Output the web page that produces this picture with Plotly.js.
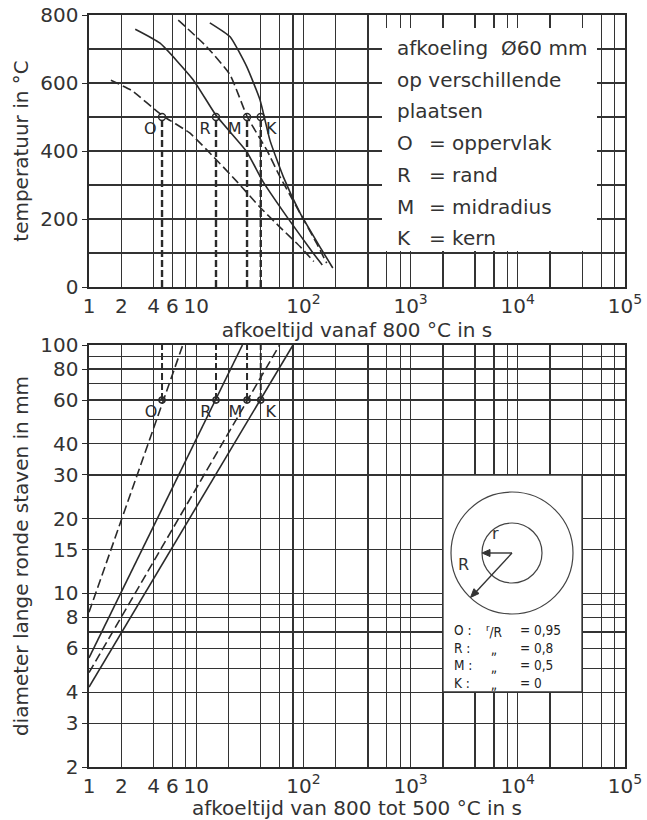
<!DOCTYPE html>
<html><head><meta charset="utf-8">
<script src="https://cdn.plot.ly/plotly-3.0.1.min.js"></script>
<style>html,body{margin:0;padding:0;background:#fff}</style>
</head><body><div id="chart" style="width:647px;height:820px"></div>
<script>
// ---------- axis ticks ----------
const timeTicks = [1,2,4,6,10,100,1000,10000,100000];
const timeTickText = ['1','2','4','6','10','10<sup>2</sup>','10<sup>3</sup>','10<sup>4</sup>','10<sup>5</sup>'];
const timeGridMinor = [8,20,40,60,80,200,400,600,800,2000,4000,6000,8000,20000,40000,60000,80000];
const tempTicks = [0,200,400,600,800];
const tempGridMinor = [100,300,500,700];
const diamTicks = [2,3,4,6,8,10,15,20,30,40,60,80,100];
const diamGridMinor = [5,7,9,50,70,90];

// ---------- top chart: cooling curves (time s, temperature °C) ----------
const topO_t = [1.6, 2.5, 4.8, 8.7, 14.5, 24, 39, 60, 93, 125];
const topO_T = [608, 578, 505, 453, 383, 310, 236, 177, 119, 75];
const topR_t = [2.7, 4.6, 9.4, 15.3, 29.6, 42, 70, 123, 150];
const topR_T = [758, 717, 609, 505, 398, 310, 207, 100, 65];
const topM_t = [6.8, 12.5, 20.7, 30, 45.5, 60.5, 93, 133, 165];
const topM_T = [785, 707, 624, 500, 403, 324, 217, 128, 70];
const topK_t = [13.4, 20.7, 29.6, 39.4, 48.7, 65, 93, 142, 188];
const topK_T = [777, 736, 648, 550, 432, 324, 218, 119, 56];

// ---------- crossing points (800->500 °C time of a 60 mm bar) ----------
const posLabels = ['O','R','M','K'];
const crossTime = [4.8, 15.3, 29.8, 40];
const crossTemp = 500;
const crossDiam = 60;
const diamTop = 100;

// ---------- bottom chart: diameter vs cooling time 800-500 °C ----------
const botO_t = [1, 7.5],  botO_d = [8.4, 100];
const botR_t = [1, 27],   botR_d = [5.5, 100];
const botM_t = [1, 60],   botM_d = [4.8, 100];
const botK_t = [1, 80],   botK_d = [4.2, 100];

// ---------- legend / inset texts ----------
const legendHead = ['afkoeling&nbsp;&nbsp;Ø60 mm','op verschillende','plaatsen'];
const legendKeys = ['O','R','M','K'];
const legendNames = ['= oppervlak','= rand','= midradius','= kern'];
const insetKeys = ['O :','R :','M :','K :'];
const insetMid = ['<sup>r</sup>/R','„','„','„'];
const insetVals = ['= 0,95','= 0,8','= 0,5','= 0'];

const INK = '#2a2a2a';
const FONT = 'DejaVu Sans, Arial, sans-serif';
const dashStyle = '9px,4px';

function line(x, y, dashed, xa, ya) {
  return {x, y, xaxis: xa, yaxis: ya, type: 'scatter', mode: 'lines', showlegend: false,
    hoverinfo: 'skip', line: {color: INK, width: 1.6, dash: dashed ? dashStyle : 'solid', shape: 'spline', smoothing: 0.45}};
}

const traces = [
  line(topO_t, topO_T, true, 'x', 'y'),
  line(topR_t, topR_T, false, 'x', 'y'),
  line(topM_t, topM_T, true, 'x', 'y'),
  line(topK_t, topK_T, false, 'x', 'y'),
  line(botO_t, botO_d, true, 'x2', 'y2'),
  line(botR_t, botR_d, false, 'x2', 'y2'),
  line(botM_t, botM_d, true, 'x2', 'y2'),
  line(botK_t, botK_d, false, 'x2', 'y2'),
];

// vertical dashed drop lines
crossTime.forEach(t => {
  traces.push({x: [t, t], y: [0, crossTemp], xaxis: 'x', yaxis: 'y', mode: 'lines', showlegend: false, hoverinfo: 'skip',
    line: {color: INK, width: 2.4, dash: '7px,3px'}});
  traces.push({x: [t, t], y: [crossDiam, diamTop], xaxis: 'x2', yaxis: 'y2', mode: 'lines', showlegend: false, hoverinfo: 'skip',
    line: {color: INK, width: 2.0, dash: '7px,3px'}});
});

// markers with position letters
const textPos = ['bottom left','bottom left','bottom left','bottom right'];
traces.push({x: crossTime, y: crossTime.map(() => crossTemp), xaxis: 'x', yaxis: 'y', mode: 'markers+text',
  text: posLabels, textposition: textPos, showlegend: false, hoverinfo: 'skip',
  textfont: {family: FONT, size: 16, color: INK},
  marker: {symbol: 'circle-open', size: 7, color: INK, line: {width: 1.4}}});
traces.push({x: crossTime, y: crossTime.map(() => crossDiam), xaxis: 'x2', yaxis: 'y2', mode: 'markers+text',
  text: posLabels, textposition: textPos, showlegend: false, hoverinfo: 'skip',
  textfont: {family: FONT, size: 16, color: INK},
  marker: {symbol: 'circle-open', size: 6, color: INK, line: {width: 1.6}}});

// ---------- layout helpers (pixel -> paper) ----------
const W = 647, H = 820, L = 89, R = 22, T = 15, B = 53;
const PW = W - L - R, PH = H - T - B;
const px = v => (v - L) / PW;
const py = v => (H - B - v) / PH;

const GRID = '#333';
const axBase = {
  showline: true, mirror: true, linecolor: INK, linewidth: 1.6,
  showgrid: true, gridcolor: GRID, gridwidth: 1.3, zeroline: false,
  tickfont: {family: FONT, size: 20, color: '#333'}, tickmode: 'array', fixedrange: true
};
const minorGrid = vals => ({tickmode: 'array', tickvals: vals, showgrid: true, gridcolor: GRID, gridwidth: 1.3, ticks: ''});

const layout = {
  width: W, height: H, paper_bgcolor: '#fff', plot_bgcolor: '#fff',
  margin: {l: L, r: R, t: T, b: B},
  font: {family: FONT, color: '#333'},
  xaxis: Object.assign({}, axBase, {type: 'log', range: [0, 5], domain: [0, 1], anchor: 'y',
    tickvals: timeTicks, ticktext: timeTickText, ticks: '', minor: minorGrid(timeGridMinor),
    title: {text: 'afkoeltijd vanaf 800 °C in s', font: {family: FONT, size: 20, color: '#333'}, standoff: 2}}),
  yaxis: Object.assign({}, axBase, {range: [0, 800], domain: [py(287), 1], anchor: 'x',
    tickvals: tempTicks, ticks: 'outside', ticklen: 5, tickcolor: INK, minor: minorGrid(tempGridMinor),
    title: {text: 'temperatuur in °C', font: {family: FONT, size: 20, color: '#333'}, standoff: 6}}),
  xaxis2: Object.assign({}, axBase, {type: 'log', range: [0, 5], domain: [0, 1], anchor: 'y2',
    tickvals: timeTicks, ticktext: timeTickText, ticks: '', minor: minorGrid(timeGridMinor),
    title: {text: 'afkoeltijd van 800 tot 500 °C in s', font: {family: FONT, size: 20, color: '#333'}, standoff: 2}}),
  yaxis2: Object.assign({}, axBase, {type: 'log', range: [Math.log10(2), 2], domain: [0, py(345)], anchor: 'x2',
    tickvals: diamTicks, ticktext: diamTicks.map(String), ticks: 'outside', ticklen: 5, tickcolor: INK,
    minor: minorGrid(diamGridMinor),
    title: {text: 'diameter lange ronde staven in mm', font: {family: FONT, size: 20, color: '#333'}, standoff: 6}}),
  shapes: [],
  annotations: []
};

// legend box in top chart
layout.shapes.push({type: 'rect', xref: 'paper', yref: 'paper', x0: px(382), x1: px(597), y0: py(251), y1: py(28),
  fillcolor: '#fff', line: {width: 0}, layer: 'above'});
// inset box in bottom chart
layout.shapes.push({type: 'rect', xref: 'paper', yref: 'paper', x0: px(443), x1: px(582), y0: py(692), y1: py(475),
  fillcolor: '#fff', line: {width: 1.3, color: GRID}, layer: 'above'});
// circles and radii (pixel offsets around the circle centre)
const cx = px(512), cy = py(553);
const pxShape = extra => Object.assign({xref: 'paper', yref: 'paper', xsizemode: 'pixel', ysizemode: 'pixel',
  xanchor: cx, yanchor: cy, layer: 'above'}, extra);
[61, 30].forEach(r => layout.shapes.push(pxShape({type: 'circle', x0: -r, x1: r, y0: -r, y1: r,
  line: {color: '#444', width: 1.2}})));
layout.shapes.push(pxShape({type: 'line', x0: 0, y0: 0, x1: -25, y1: 0, line: {color: '#333', width: 1.4}}));
layout.shapes.push(pxShape({type: 'line', x0: 0, y0: 0, x1: -37, y1: -40, line: {color: '#333', width: 1.4}}));
layout.shapes.push(pxShape({type: 'path', path: 'M -30 0 L -22 3.5 L -22 -3.5 Z', fillcolor: '#333', line: {color: '#333', width: 1}}));
layout.shapes.push(pxShape({type: 'path', path: 'M -41.5 -44.5 L -33 -40.5 L -38.1 -35.7 Z', fillcolor: '#333', line: {color: '#333', width: 1}}));

layout.annotations.push({xref: 'paper', yref: 'paper', x: px(501), y: py(545), text: 'r', showarrow: false,
  font: {family: FONT, size: 16, color: '#333'}});
layout.annotations.push({xref: 'paper', yref: 'paper', x: px(471), y: py(576), text: 'R', showarrow: false,
  font: {family: FONT, size: 16, color: '#333'}});

// top legend text
const headY = [48, 80, 111];
legendHead.forEach((t, i) => layout.annotations.push({xref: 'paper', yref: 'paper', x: px(395), y: py(headY[i]),
  xanchor: 'left', yanchor: 'middle', text: t, showarrow: false, font: {family: FONT, size: 20, color: '#333'}}));
const keyY = [143, 175, 207, 238];
legendKeys.forEach((k, i) => {
  layout.annotations.push({xref: 'paper', yref: 'paper', x: px(395), y: py(keyY[i]), xanchor: 'left', yanchor: 'middle',
    text: k, showarrow: false, font: {family: FONT, size: 20, color: '#333'}});
  layout.annotations.push({xref: 'paper', yref: 'paper', x: px(427), y: py(keyY[i]), xanchor: 'left', yanchor: 'middle',
    text: legendNames[i], showarrow: false, font: {family: FONT, size: 20, color: '#333'}});
});

// inset text: one multi-line annotation per column
const IFONT = 'DejaVu Sans Condensed, DejaVu Sans, sans-serif';
const insetTop = 620;
[[insetKeys, 452, 'left'], [insetMid, 494, 'center'], [insetVals, 518, 'left']].forEach(([col, x, anchor]) => {
  layout.annotations.push({xref: 'paper', yref: 'paper', x: px(x), y: py(insetTop), xanchor: anchor, yanchor: 'top',
    align: anchor === 'center' ? 'center' : 'left', text: col.join('<br>'), showarrow: false,
    font: {family: IFONT, size: 13.5, color: '#222'}});
});

Plotly.newPlot('chart', traces, layout, {displayModeBar: false, staticPlot: true});
</script>
</body></html>
